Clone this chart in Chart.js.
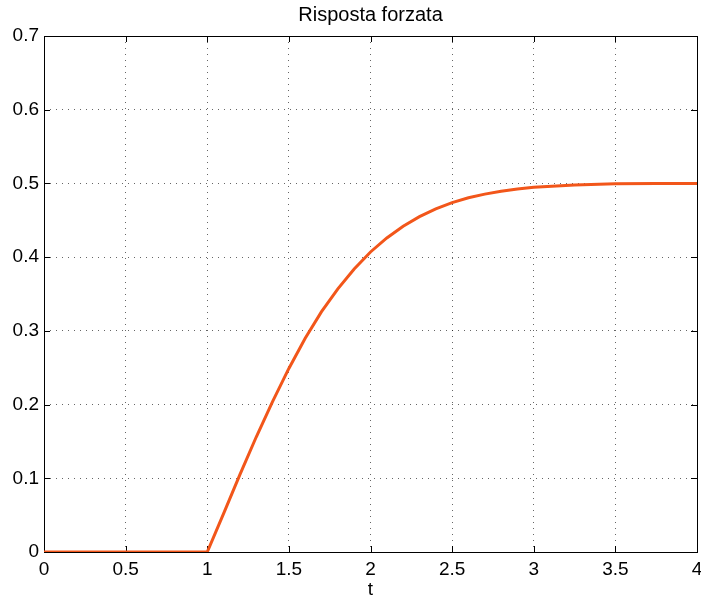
<!DOCTYPE html>
<html>
<head>
<meta charset="utf-8">
<script src="https://cdn.jsdelivr.net/npm/chart.js@4/dist/chart.umd.min.js"></script>
<style>
  html, body { margin: 0; padding: 0; background: #fff; }
  #wrap { width: 701px; height: 601px; position: relative; }
</style>
</head>
<body>
<div id="wrap"><canvas id="chart"></canvas></div>
<script>
const tValues = [0, 1, 1.1, 1.2, 1.3, 1.4, 1.5, 1.6, 1.7, 1.8, 1.9, 2.0, 2.1, 2.2, 2.3, 2.4, 2.5, 2.6, 2.7, 2.8, 2.9, 3.0, 3.25, 3.5, 3.75, 4.0];
const response = [0, 0, 0.052, 0.105, 0.156, 0.204, 0.249, 0.290, 0.326, 0.357, 0.384, 0.407, 0.426, 0.442, 0.455, 0.4655, 0.474, 0.4805, 0.4855, 0.4895, 0.4925, 0.4947, 0.498, 0.4995, 0.5, 0.5];
const xTicks = [0, 0.5, 1, 1.5, 2, 2.5, 3, 3.5, 4];
const yTicks = [0, 0.1, 0.2, 0.3, 0.4, 0.5, 0.6, 0.7];

const lineColor = "#f2561a";
const fontFamily = "'Liberation Sans', Arial, sans-serif";

// box round the plot and small ticks pointing inwards on all four sides
const boxPlugin = {
  id: "box",
  beforeDatasetsDraw(chart) {
    const { ctx, chartArea: a, scales } = chart;
    ctx.save();
    ctx.strokeStyle = "#000";
    ctx.lineWidth = 1;
    ctx.beginPath();
    xTicks.forEach((v) => {
      const x = Math.round(scales.x.getPixelForValue(v)) + 0.5;
      ctx.moveTo(x, a.bottom);
      ctx.lineTo(x, a.bottom - 6);
      ctx.moveTo(x, a.top);
      ctx.lineTo(x, a.top + 6);
    });
    yTicks.forEach((v) => {
      const y = Math.round(scales.y.getPixelForValue(v)) + 0.5;
      ctx.moveTo(a.left, y);
      ctx.lineTo(a.left + 6, y);
      ctx.moveTo(a.right, y);
      ctx.lineTo(a.right - 6, y);
    });
    ctx.stroke();
    ctx.strokeRect(Math.round(a.left) + 0.5, Math.round(a.top) + 0.5,
      Math.round(a.right - a.left), Math.round(a.bottom - a.top));
    ctx.restore();
  },
};

const points = tValues.map((t, i) => ({ x: t, y: response[i] }));

new Chart(document.getElementById("chart"), {
  type: "line",
  data: {
    datasets: [
      {
        label: "Risposta forzata",
        data: points,
        borderColor: lineColor,
        borderWidth: 3,
        pointRadius: 0,
        tension: 0,
        fill: false,
      },
    ],
  },
  options: {
    responsive: true,
    maintainAspectRatio: false,
    animation: false,
    layout: { padding: { left: 0, right: 4, top: 0, bottom: 0 } },
    plugins: {
      legend: { display: false },
      tooltip: { enabled: false },
      title: {
        display: true,
        fullSize: false,
        text: "Risposta forzata",
        color: "#000",
        font: { family: fontFamily, size: 20, weight: "normal" },
        padding: { top: 3, bottom: 9 },
      },
    },
    scales: {
      x: {
        type: "linear",
        min: 0,
        max: 4,
        afterBuildTicks(scale) {
          scale.ticks = xTicks.map((v) => ({ value: v }));
        },
        afterFit(scale) {
          scale.height = 49;
          scale.paddingLeft = 0;
          scale.paddingRight = 0;
        },
        border: { display: false, dash: [1, 5] },
        grid: {
          color: "rgba(0,0,0,0.6)",
          drawTicks: false,
        },
        ticks: {
          color: "#000",
          padding: 6,
          maxRotation: 0,
          autoSkip: false,
          font: { family: fontFamily, size: 19 },
          callback: (v) => String(v),
        },
        title: {
          display: true,
          text: "t",
          color: "#000",
          padding: { top: 0, bottom: 0 },
          font: { family: fontFamily, size: 19 },
        },
      },
      y: {
        type: "linear",
        min: 0,
        max: 0.7,
        afterBuildTicks(scale) {
          scale.ticks = yTicks.map((v) => ({ value: v }));
        },
        afterFit(scale) {
          scale.width = 44;
          scale.paddingTop = 0;
          scale.paddingBottom = 0;
        },
        border: { display: false, dash: [1, 5] },
        grid: {
          color: "rgba(0,0,0,0.6)",
          drawTicks: false,
        },
        ticks: {
          color: "#000",
          padding: 5,
          autoSkip: false,
          font: { family: fontFamily, size: 19 },
          callback: (v) => String(v),
        },
      },
    },
  },
  plugins: [boxPlugin],
});
</script>
</body>
</html>
